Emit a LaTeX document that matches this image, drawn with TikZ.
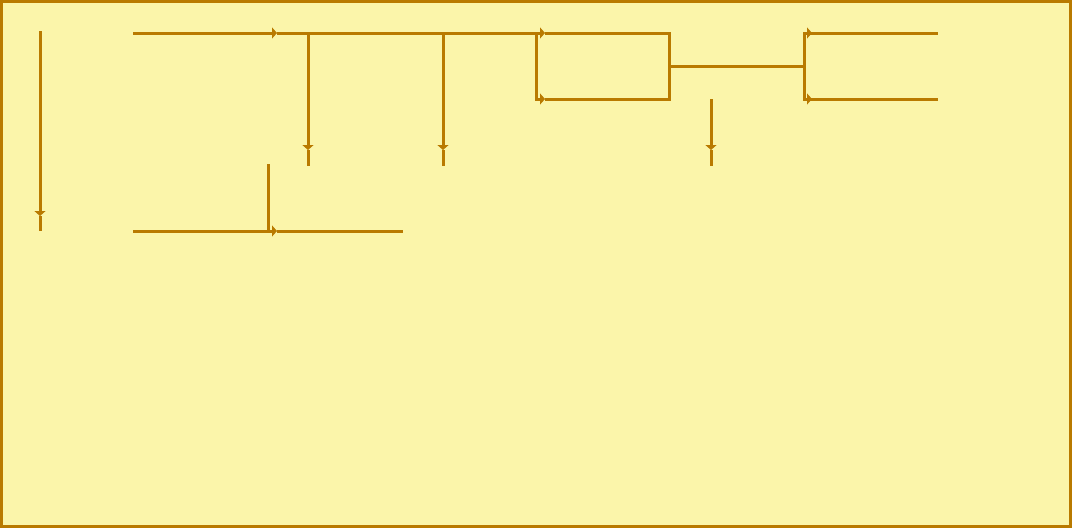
\documentclass[tikz,border=0pt]{standalone}
\usepackage{tikz}
\usetikzlibrary{arrows.meta}

\definecolor{wirecol}{RGB}{185,122,0}
\definecolor{papercol}{RGB}{251,245,170}

\begin{document}
\begin{tikzpicture}[
    x=1pt, y=-1pt,
    wire/.style={draw=wirecol, line width=3pt},
    flow/.style={wire, -{Triangle[length=5pt, width=11pt]}},
    frame/.style={draw=wirecol, fill=papercol, line width=3pt}
]

% Background and frame
\useasboundingbox (0,0) rectangle (1072,528);
\draw[frame] (1.5,1.5) rectangle (1070.5,526.5);

% Coordinates
\coordinate (lefttop) at (40,31);
\coordinate (lefttip) at (40,216);
\coordinate (leftend) at (40,231);

\coordinate (mainstart) at (133,33);
\coordinate (maintip) at (277,33);
\coordinate (dropA) at (308,33);
\coordinate (dropAtip) at (308,150);
\coordinate (dropAend) at (308,166);
\coordinate (dropB) at (443,33);
\coordinate (dropBtip) at (443,150);
\coordinate (dropBend) at (443,166);

\coordinate (splitL) at (536,33);
\coordinate (uppertip) at (545,33);
\coordinate (lowerL) at (536,99);
\coordinate (lowertip) at (545,99);
\coordinate (joinTR) at (669,33);
\coordinate (joinBR) at (669,99);
\coordinate (joinmid) at (669,66);
\coordinate (forkmid) at (804,66);
\coordinate (forkT) at (804,33);
\coordinate (forkB) at (804,99);
\coordinate (forkTtip) at (812,33);
\coordinate (forkBtip) at (812,99);
\coordinate (forkTend) at (938,33);
\coordinate (forkBend) at (938,99);

\coordinate (dropC) at (711,99);
\coordinate (dropCtip) at (711,150);
\coordinate (dropCend) at (711,166);

\coordinate (lowstart) at (133,231);
\coordinate (lowtip) at (277,231);
\coordinate (lowend) at (403,231);
\coordinate (risetop) at (268,164);
\coordinate (risebot) at (268,231);

% Left vertical
\draw[flow] (lefttop) -- (lefttip);
\draw[wire] (lefttip) -- (leftend);

% Main top line
\draw[flow] (mainstart) -- (maintip);
\draw[wire] (maintip) -- (splitL);
\draw[flow] (dropA) -- (dropAtip);
\draw[wire] (dropAtip) -- (dropAend);
\draw[flow] (dropB) -- (dropBtip);
\draw[wire] (dropBtip) -- (dropBend);

% Split and join
\draw[flow] (splitL) -- (uppertip);
\draw[wire] (uppertip) -- (joinTR) -- (joinBR) -- (lowertip);
\draw[flow] (splitL) -- (lowerL) -- (lowertip);
\draw[wire] (joinmid) -- (forkmid);

% Right fork
\draw[wire] (forkTtip) -- (forkT) -- (forkB) -- (forkBtip);
\draw[flow] (forkT) -- (forkTtip);
\draw[flow] (forkB) -- (forkBtip);
\draw[wire] (forkTtip) -- (forkTend);
\draw[wire] (forkBtip) -- (forkBend);

% Drop under the link
\draw[flow] (dropC) -- (dropCtip);
\draw[wire] (dropCtip) -- (dropCend);

% Lower line
\draw[wire] (risetop) -- (risebot);
\draw[flow] (lowstart) -- (lowtip);
\draw[wire] (lowtip) -- (lowend);

\end{tikzpicture}
\end{document}
